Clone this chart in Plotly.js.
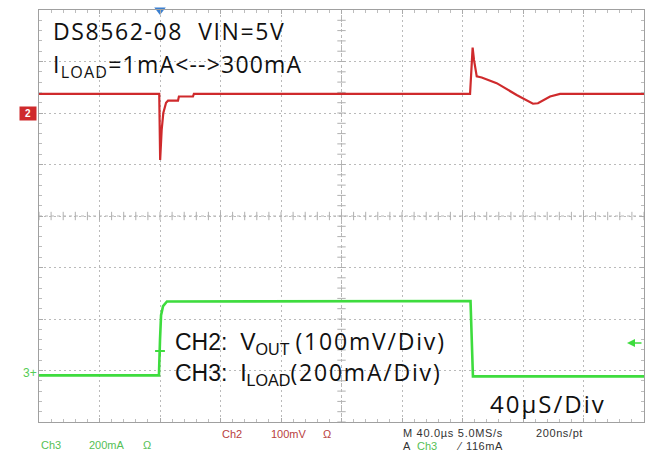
<!DOCTYPE html>
<html><head><meta charset="utf-8">
<script src="https://cdn.plot.ly/plotly-3.0.1.min.js"></script>
<style>html,body{margin:0;padding:0;background:#fff}#chart{width:648px;height:451px}</style>
</head><body><div id="chart"></div>
<script>
// Time axis: microseconds (40 µs/div, 10 div)
const timeDivUs = 40;
// CH2: V_OUT in mV relative to the CH2 ground marker (100 mV/div)
const vTime = [0, 79.5, 80.1, 81.1, 82.2, 84.0, 85.3, 91.9, 92.5, 101.8, 102.4, 285.0, 286.7, 287.6, 289.4, 292.7, 302.6, 315.8, 326.6, 329.9, 337.9, 344.5, 400];
const vOut  = [37, 37, -91, -33, 0, 20, 24, 24, 32, 32, 37, 37, 127, 103, 71, 69, 58, 35, 18, 19, 32, 37, 37];
// CH3: I_LOAD in mA relative to the CH3 ground marker (200 mA/div)
const iTime = [0, 79.3, 80.0, 80.7, 82.0, 84.6, 285.3, 286.3, 286.9, 400];
const iLoad = [1, 1, 138, 235, 270, 288, 290, 138, -3, -3];
// channel settings
const ch2Scale = 100, ch2Pos = 2.0;    // mV/div, divisions
const ch3Scale = 200, ch3Pos = -3.1;   // mA/div, divisions
const trigTime = 80, trigLevel = 116;  // µs, mA

const toDiv2 = v => ch2Pos + v / ch2Scale;
const toDiv3 = v => ch3Pos + v / ch3Scale;

// center crosshair tick positions
const cx = [], cy = [];
for (let t = 0; t <= 400; t += timeDivUs / 5) { cx.push(t); }
for (let d = -4; d <= 4.001; d += 0.2) { cy.push(d); }

const red = '#cf2a2c', green = '#3edc3e';

const traces = [
  {x: cx, y: cx.map(() => 0), mode: 'markers', marker: {symbol: 'line-ns-open', size: 6, color: '#b0b0b0', line: {width: 1, color: '#b0b0b0'}}, hoverinfo: 'skip'},
  {x: cy.map(() => 200), y: cy, mode: 'markers', marker: {symbol: 'line-ew-open', size: 6, color: '#b0b0b0', line: {width: 1, color: '#b0b0b0'}}, hoverinfo: 'skip'},
  {x: vTime, y: vOut.map(toDiv2), mode: 'lines', line: {color: red, width: 2.2}, hoverinfo: 'skip'},
  {x: iTime, y: iLoad.map(toDiv3), mode: 'lines', line: {color: green, width: 2.6}, hoverinfo: 'skip'},
  {x: [trigTime], y: [4], mode: 'markers', marker: {symbol: 'triangle-down', size: 10, color: '#3a7fd0'}, cliponaxis: false, hoverinfo: 'skip'},
  {x: [trigTime], y: [toDiv3(trigLevel) - 0.1], mode: 'markers', marker: {symbol: 'cross-thin-open', size: 7, color: green, line: {width: 2, color: green}}, hoverinfo: 'skip'}
];

const px = x => (x - 39) / 605, py = y => (422 - y) / 412;
const ann = (text, x, y, size, color, family, xanchor, extra) => Object.assign({
  text: text, xref: 'paper', yref: 'paper', x: px(x), y: py(y), xanchor: xanchor || 'left', yanchor: 'middle',
  showarrow: false, font: {size: size, color: color, family: family}
}, extra || {});

const big = '"Open Sans", Lato, sans-serif';
const ari = '"Liberation Sans", Arial, sans-serif';
const small = '"Liberation Sans", Arial, sans-serif';
const ls = s => '<span style="letter-spacing:' + s + 'px">';

const annotations = [
  ann(ls(1.6) + 'DS8562-08&nbsp;&nbsp;VIN=5V</span>', 51, 31, 23, '#111', big),
  ann(ls(1.2) + 'I<sub>LOAD</sub>=1mA&lt;--&gt;300mA</span>', 51, 65, 23, '#111', big),
  ann('<span style="font-family:Liberation Sans">CH2:&nbsp; V<sub>OUT</sub></span> ' + ls(1.8) + '(100mV/Div)</span>', 173, 341, 23, '#111', big),
  ann('<span style="font-family:Liberation Sans">CH3:&nbsp;&nbsp;I<sub>LOAD</sub></span>' + ls(1.8) + '(200mA/Div)</span>', 173, 372, 23, '#111', big),
  ann(ls(2) + '40µS/Div</span>', 488, 403, 24, '#111', big),
  ann('<b>2</b>', 28, 113, 10, '#ffffff', ari, 'center', {bgcolor: red, borderpad: 1, width: 14}),
  ann('3+', 39, 373, 12, '#55cc55', ari, 'right'),
  {text: '', xref: 'paper', yref: 'paper', x: px(627), y: py(343), showarrow: true, ax: 16, ay: 0,
   arrowcolor: green, arrowhead: 2, arrowsize: 1, arrowwidth: 1.6},
  ann('Ch3', 39, 445, 11, '#55c055', small),
  ann('200mA', 87, 445, 11, '#55c055', small),
  ann('Ω', 141, 445, 11, '#55c055', small),
  ann('Ch2', 220, 434, 11, '#b84040', small),
  ann('100mV', 269, 434, 11, '#b84040', small),
  ann('Ω', 321, 434, 11, '#b84040', small),
  ann(ls(0.7) + 'M 40.0µs 5.0MS/s</span>', 401, 433, 11, '#333', small),
  ann(ls(0.6) + '200ns/pt</span>', 534, 433, 11, '#333', small),
  ann('A', 401, 446, 11, '#333', small),
  ann('Ch3', 415, 446, 11, '#55c055', small),
  ann('⁄', 454, 446, 11, '#333', small),
  ann(ls(0.6) + '116mA</span>', 464, 446, 11, '#333', small)
];

const axisCommon = {
  showticklabels: false, zeroline: false, showline: true, mirror: 'allticks', linecolor: '#a0a0a0', linewidth: 1,
  showgrid: true, gridcolor: '#bababa', griddash: '2px,3px', gridwidth: 1,
  ticks: 'inside', ticklen: 4, tickcolor: '#aaaaaa', fixedrange: true
};

const layout = {
  width: 648, height: 451,
  margin: {l: 39, r: 4, t: 10, b: 29},
  paper_bgcolor: '#ffffff', plot_bgcolor: '#ffffff',
  showlegend: false,
  xaxis: Object.assign({}, axisCommon, {range: [0, 400], dtick: timeDivUs, tick0: 0,
    minor: {dtick: timeDivUs / 5, ticks: 'inside', ticklen: 3, tickcolor: '#bdbdbd', showgrid: false}}),
  yaxis: Object.assign({}, axisCommon, {range: [-4, 4], dtick: 1, tick0: 0,
    minor: {dtick: 0.2, ticks: 'inside', ticklen: 3, tickcolor: '#bdbdbd', showgrid: false}}),
  annotations: annotations,
  shapes: [
    {type: 'line', xref: 'x', yref: 'y', x0: 0, x1: 400, y0: 0, y1: 0, line: {color: '#b5b5b5', width: 1, dash: 'dot'}, layer: 'below'},
    {type: 'line', xref: 'x', yref: 'y', x0: 200, x1: 200, y0: -4, y1: 4, line: {color: '#b5b5b5', width: 1, dash: 'dot'}, layer: 'below'}
  ]
};

Plotly.newPlot('chart', traces, layout, {staticPlot: true, displayModeBar: false});
</script>
</body></html>
